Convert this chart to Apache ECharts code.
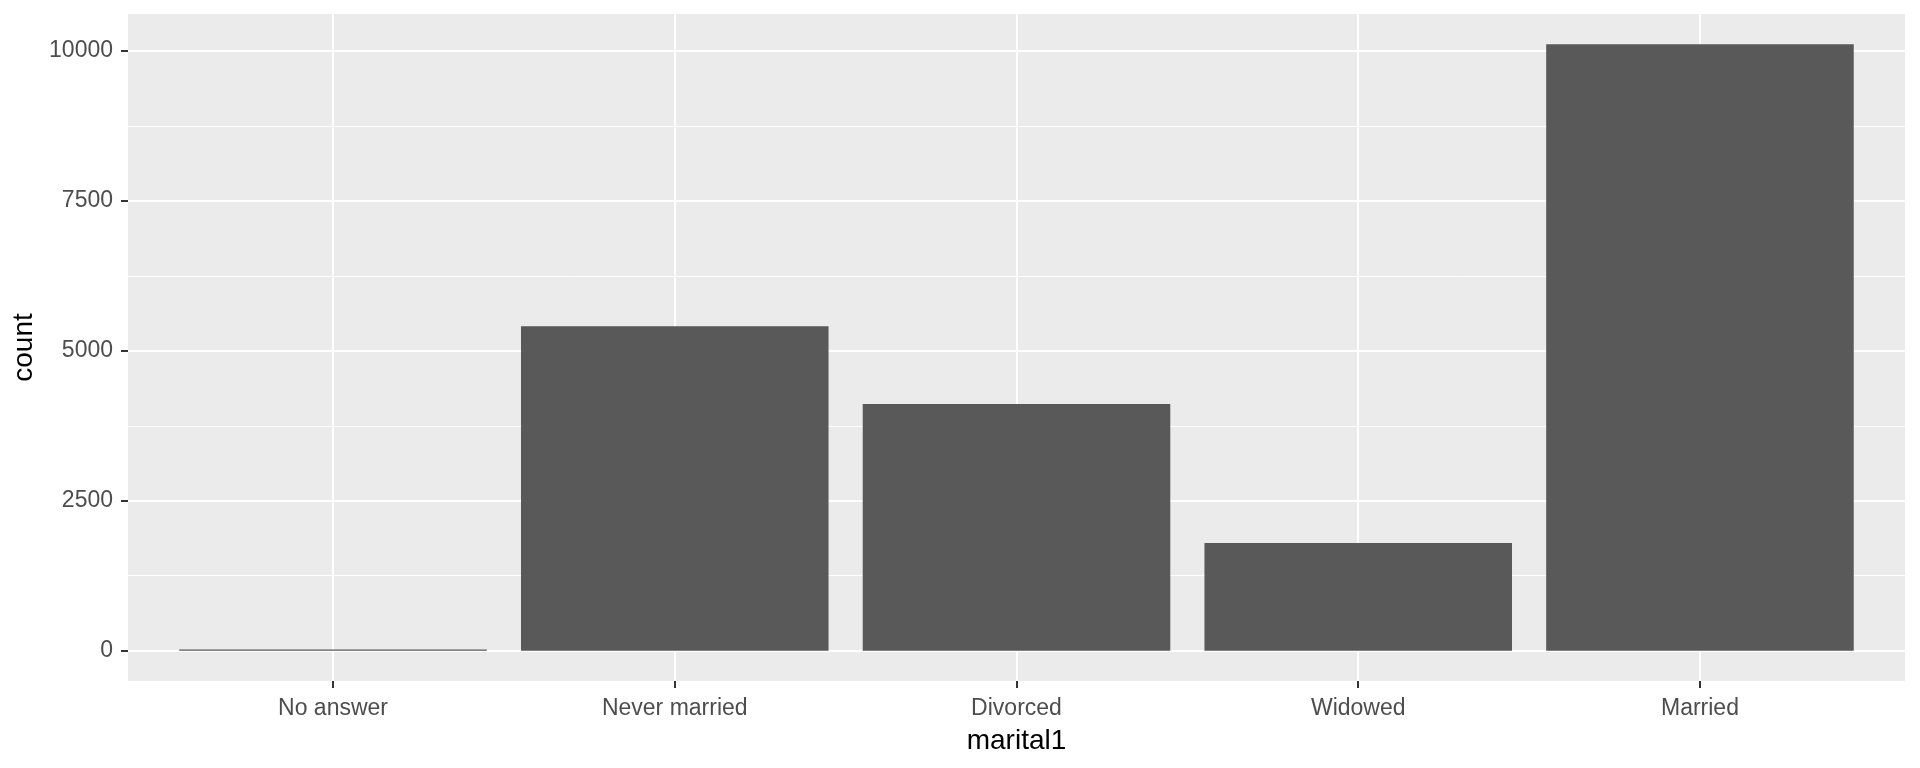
<!DOCTYPE html>
<html>
<head>
<meta charset="utf-8">
<script src="https://cdn.jsdelivr.net/npm/echarts@6/dist/echarts.min.js"></script>
<style>html,body{margin:0;padding:0;background:#fff;}#chart{width:1920px;height:768px;}</style>
</head>
<body>
<div id="chart"></div>
<script>
const categories = ['No answer', 'Never married', 'Divorced', 'Widowed', 'Married'];
const counts = [18, 5412, 4112, 1795, 10112];
const yTicks = [0, 2500, 5000, 7500, 10000];
const yMinorTicks = [1250, 3750, 6250, 8750];

// ggplot-like expansion
const maxVal = Math.max(...counts);
const yMin = -0.05 * maxVal;
const yMax = maxVal * 1.05;
const catIdx = categories.map((c, i) => i);

// panel layout
const panelLeft = 128, panelTop = 14, panelW = 1777, panelH = 667;
const unit = panelW / (categories.length - 1 + 1.2);
const barGridLeft = panelLeft + 0.1 * unit;
const barGridW = categories.length * unit;

const font = 'Liberation Sans';
const tickStyle = { color: '#333333', width: 2 };

const chart = echarts.init(document.getElementById('chart'), null, { renderer: 'canvas' });
chart.setOption({
  animation: false,
  backgroundColor: '#ffffff',
  grid: [
    { left: panelLeft, top: panelTop, width: panelW, height: panelH, show: true, backgroundColor: '#EBEBEB', borderWidth: 0 },
    { left: barGridLeft, top: panelTop, width: barGridW, height: panelH }
  ],
  xAxis: [
    {
      gridIndex: 0, type: 'value', min: -0.6, max: categories.length - 1 + 0.6,
      axisLine: { show: false, onZero: false }, axisLabel: { show: false },
      axisTick: { show: false, customValues: catIdx },
      splitLine: { show: true, lineStyle: { color: '#ffffff', width: 2 } }
    },
    {
      gridIndex: 1, type: 'category', data: categories, position: 'bottom',
      axisLine: { show: false, onZero: false },
      axisTick: { show: true, alignWithLabel: true, length: 7, lineStyle: tickStyle },
      axisLabel: { margin: 16, fontSize: 23, color: '#4D4D4D', fontFamily: font },
      splitLine: { show: false },
      name: 'marital1', nameLocation: 'middle', nameGap: 46,
      nameTextStyle: { fontSize: 28, color: '#000000', fontFamily: font }
    }
  ],
  yAxis: [
    {
      gridIndex: 0, type: 'value', min: yMin, max: yMax, position: 'left',
      axisLine: { show: false, onZero: false },
      axisTick: { show: true, length: 7, customValues: yTicks, lineStyle: tickStyle },
      axisLabel: { customValues: yTicks, margin: 15, fontSize: 23, color: '#4D4D4D', fontFamily: font,
                   padding: [5, 0, 0, 0], formatter: v => String(v) },
      splitLine: { show: true, lineStyle: { color: '#ffffff', width: 2 } },
      name: 'count', nameLocation: 'middle', nameGap: 86, nameRotate: 90,
      nameTextStyle: { fontSize: 28, color: '#000000', fontFamily: font }
    },
    {
      gridIndex: 0, type: 'value', min: yMin, max: yMax, position: 'left',
      axisLine: { show: false, onZero: false }, axisLabel: { show: false },
      axisTick: { show: false, customValues: yMinorTicks },
      splitLine: { show: true, lineStyle: { color: '#ffffff', width: 1 } }
    },
    { gridIndex: 1, type: 'value', min: yMin, max: yMax, show: false, axisLine: { onZero: false } }
  ],
  series: [
    {
      type: 'bar', xAxisIndex: 1, yAxisIndex: 2,
      data: counts, barWidth: '90%',
      itemStyle: { color: '#595959' }
    }
  ]
});
</script>
</body>
</html>
